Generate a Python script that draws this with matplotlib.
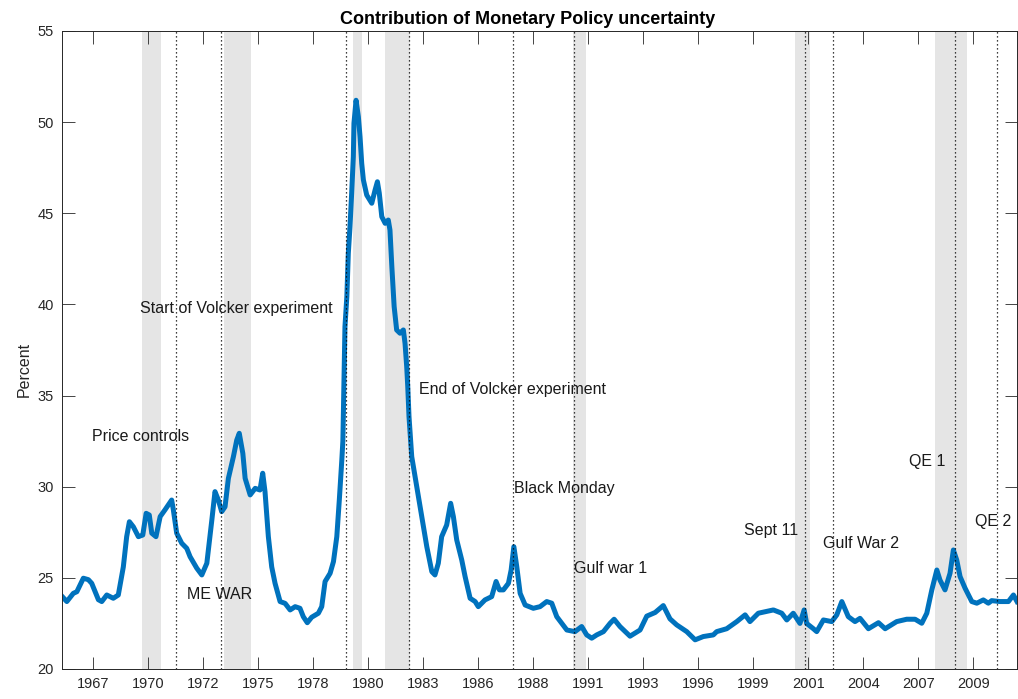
import numpy as np
import matplotlib
matplotlib.use("Agg")
import matplotlib.pyplot as plt

plt.rcParams['font.family'] = ['Liberation Sans', 'DejaVu Sans']

# series (decimal year, percent)
years = [1966.17, 1966.41, 1966.72, 1966.89, 1967.20, 1967.44, 1967.60, 1967.92, 1968.08, 1968.32,
         1968.63, 1968.87, 1969.11, 1969.27, 1969.40, 1969.59, 1969.83, 1970.04, 1970.20, 1970.35,
         1970.47, 1970.67, 1970.87, 1971.10, 1971.26, 1971.42, 1971.50, 1971.66, 1971.90, 1972.14,
         1972.30, 1972.62, 1972.86, 1973.10, 1973.34, 1973.49, 1973.65, 1973.81, 1973.97, 1974.13,
         1974.37, 1974.53, 1974.65, 1974.82, 1974.93, 1975.17, 1975.41, 1975.64, 1975.77, 1975.88,
         1976.04, 1976.20, 1976.36, 1976.60, 1976.84, 1977.08, 1977.32, 1977.55, 1977.71, 1977.90,
         1978.11, 1978.43, 1978.59, 1978.75, 1978.99, 1979.15, 1979.31, 1979.43, 1979.55, 1979.60,
         1979.64, 1979.70, 1979.79, 1979.86, 1979.94, 1980.02, 1980.10, 1980.13, 1980.23, 1980.34,
         1980.42, 1980.50, 1980.58, 1980.74, 1980.98, 1981.14, 1981.25, 1981.34, 1981.46, 1981.62,
         1981.77, 1981.85, 1981.94, 1982.05, 1982.17, 1982.33, 1982.49, 1982.57, 1982.65, 1982.70,
         1982.76, 1982.89, 1983.13, 1983.37, 1983.61, 1983.85, 1984.00, 1984.16, 1984.32, 1984.56,
         1984.75, 1984.88, 1985.04, 1985.28, 1985.44, 1985.68, 1985.92, 1986.07, 1986.39, 1986.71,
         1986.92, 1987.08, 1987.27, 1987.51, 1987.64, 1987.77, 1987.91, 1988.07, 1988.31, 1988.70,
         1989.02, 1989.34, 1989.58, 1989.82, 1990.30, 1990.69, 1991.01, 1991.25, 1991.49, 1991.73,
         1992.05, 1992.37, 1992.56, 1992.84, 1993.32, 1993.80, 1994.12, 1994.52, 1994.91, 1995.23,
         1995.55, 1996.03, 1996.43, 1996.82, 1997.30, 1997.46, 1997.94, 1998.42, 1998.82, 1999.05,
         1999.45, 2000.17, 2000.57, 2000.81, 2001.12, 2001.44, 2001.64, 2001.76, 2002.08, 2002.24,
         2002.56, 2002.96, 2003.20, 2003.44, 2003.75, 2004.07, 2004.31, 2004.71, 2005.19, 2005.51,
         2006.06, 2006.54, 2006.94, 2007.26, 2007.50, 2007.74, 2007.98, 2008.13, 2008.37, 2008.61,
         2008.77, 2008.93, 2009.09, 2009.33, 2009.65, 2009.89, 2010.20, 2010.44, 2010.60, 2011.00,
         2011.40, 2011.64, 2011.81]
values = [24.0, 23.7, 24.15, 24.24, 24.98, 24.9, 24.7, 23.8, 23.7, 24.06,
          23.88, 24.06, 25.6, 27.26, 28.08, 27.8, 27.26, 27.35, 28.54, 28.45,
          27.45, 27.26, 28.36, 28.73, 29.0, 29.27, 28.73, 27.45, 26.9, 26.62,
          26.16, 25.53, 25.16, 25.8, 28.18, 29.73, 29.27, 28.63, 28.9, 30.46,
          31.65, 32.56, 32.93, 31.83, 30.46, 29.55, 29.91, 29.82, 30.74, 29.73,
          27.26, 25.6, 24.7, 23.7, 23.6, 23.24, 23.42, 23.33, 22.87, 22.54,
          22.84, 23.06, 23.42, 24.8, 25.25, 25.89, 27.26, 29.27, 31.47, 32.5,
          35.0, 38.78, 40.43, 42.8, 44.26, 46.1, 48.1, 49.94, 51.2, 50.3,
          49.2, 47.74, 46.83, 46.0, 45.55, 46.28, 46.73, 46.1, 44.81, 44.45,
          44.63, 44.08, 42.07, 39.88, 38.6, 38.42, 38.6, 37.87, 36.59, 35.5,
          33.84, 31.65, 30.0, 28.36, 26.71, 25.34, 25.16, 25.8, 27.26, 27.9,
          29.09, 28.36, 27.08, 25.98, 25.07, 23.88, 23.7, 23.42, 23.79, 23.97,
          24.8, 24.34, 24.34, 24.7, 25.43, 26.71, 25.6, 24.15, 23.51, 23.33,
          23.42, 23.7, 23.61, 22.87, 22.14, 22.05, 22.33, 21.87, 21.69, 21.87,
          22.05, 22.51, 22.73, 22.33, 21.8, 22.14, 22.9, 23.1, 23.48, 22.75,
          22.42, 22.05, 21.6, 21.78, 21.87, 22.05, 22.21, 22.6, 22.97, 22.6,
          23.06, 23.24, 23.06, 22.69, 23.06, 22.5, 23.24, 22.5, 22.21, 22.05,
          22.69, 22.6, 22.97, 23.7, 22.87, 22.6, 22.78, 22.21, 22.54, 22.21,
          22.6, 22.73, 22.73, 22.51, 23.06, 24.34, 25.43, 24.88, 24.34, 25.25,
          26.53, 25.98, 25.07, 24.43, 23.7, 23.61, 23.79, 23.61, 23.75, 23.7,
          23.7, 24.06, 23.7]

# recession shading (start, end)
rec_start = [1970.0, 1973.9, 1980.1, 1981.6, 1990.6, 2001.2, 2007.9]
rec_end = [1970.9, 1975.2, 1980.5, 1982.8, 1991.2, 2001.9, 2009.4]

# event dates (dotted lines)
events = [1971.63, 1973.77, 1979.74, 1982.76, 1987.75, 1990.66, 2001.70, 2003.01, 2008.84, 2010.84]

# annotations: text, x, y
labels = ["Price controls", "ME WAR", "Start of Volcker experiment", "End of Volcker experiment",
          "Black Monday", "Gulf war 1", "Sept 11", "Gulf War 2", "QE 1", "QE 2"]
label_x = [1967.63, 1972.14, 1969.92, 1983.25, 1987.79, 1990.65, 1998.78, 2002.53, 2006.67, 2009.80]
label_y = [32.78, 24.06, 39.75, 35.32, 29.91, 25.53, 27.59, 26.88, 31.37, 28.08]

tick_labels = ['1967', '1970', '1972', '1975', '1978', '1980', '1983', '1986', '1988',
               '1991', '1993', '1996', '1999', '2001', '2004', '2007', '2009']

fig = plt.figure(figsize=(10.18, 6.99), dpi=100)
ax = fig.add_axes([62 / 1018, 30 / 699, 955 / 1018, 638 / 699])

for a, b in zip(rec_start, rec_end):
    ax.axvspan(a, b, color='#e5e5e5', lw=0, zorder=0)

ax.plot(years, values, color='#0072BD', lw=3.6, zorder=2, solid_joinstyle='round')

for e in events:
    ax.axvline(e, color='black', lw=0.9, ls=(0, (1, 2.2)), zorder=3)

for s, x, y in zip(labels, label_x, label_y):
    ax.text(x, y, s, fontsize=11.5, color='#1a1a1a', va='center', ha='left', zorder=4)

ax.set_xlim(1966.18, 2011.81)
ax.set_ylim(20, 55)
ax.set_xticks(np.linspace(1967.65, 2009.73, len(tick_labels)))
ax.set_xticklabels(tick_labels)
ax.set_yticks(np.arange(20, 56, 5))

ax.tick_params(direction='in', length=9, width=0.6, colors='#262626', labelsize=10.5,
               top=True, right=True, pad=6)
for sp in ax.spines.values():
    sp.set_color('#262626')
    sp.set_linewidth(0.7)

ax.set_title('Contribution of Monetary Policy uncertainty', fontsize=13, fontweight='bold',
             color='black', pad=5, x=0.488)
ax.set_ylabel('Percent', fontsize=11.5, color='#262626')
ax.yaxis.set_label_coords(-0.032, 0.47)

fig.savefig('out.png', dpi=100)
